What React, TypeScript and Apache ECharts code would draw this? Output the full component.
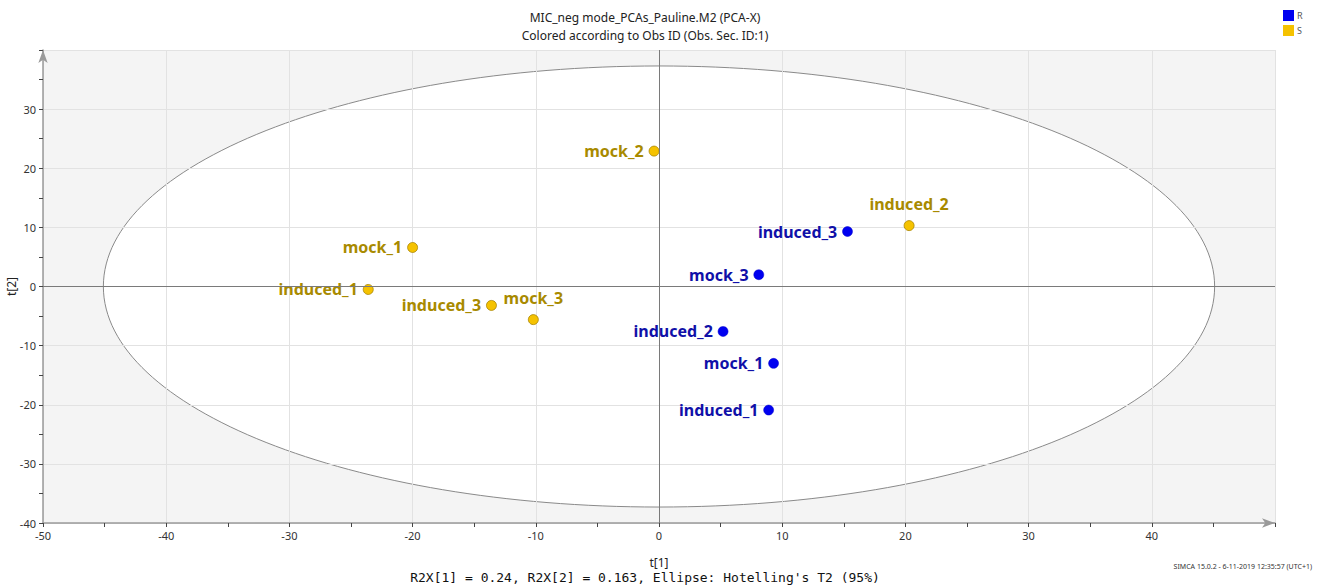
import React, { useEffect, useRef } from "react";
import * as echarts from "echarts";

const titleLines = ["MIC_neg mode_PCAs_Pauline.M2 (PCA-X)", "Colored according to Obs ID (Obs. Sec. ID:1)"];
const footerText = "R2X[1] = 0.24, R2X[2] = 0.163, Ellipse: Hotelling's T2 (95%)";
const stampText = "SIMCA 15.0.2 - 6-11-2019 12:35:57 (UTC+1)";

const rNames = ["induced_3", "mock_3", "induced_2", "mock_1", "induced_1"];
const rT1 = [15.3, 8.1, 5.2, 9.3, 8.9];
const rT2 = [9.3, 2.0, -7.6, -13.0, -20.9];

const sNames = ["mock_2", "induced_2", "mock_1", "induced_1", "induced_3", "mock_3"];
const sT1 = [-0.4, 20.3, -20.0, -23.6, -13.6, -10.2];
const sT2 = [22.9, 10.3, 6.6, -0.5, -3.2, -5.6];

// Hotelling's T2 (95%) ellipse semi-axes in t[1], t[2] units
const ellipseT1 = 45.1;
const ellipseT2 = 37.3;

const xMin = -50, xMax = 50, yMin = -40, yMax = 40, step = 10;

const sLabelTop = ["induced_2", "mock_3"];

const FONT = "'Noto Sans', 'Open Sans', sans-serif";

export default function App() {
  const ref = useRef<HTMLDivElement>(null);
  useEffect(() => {
    if (!ref.current) return;
    const chart = echarts.init(ref.current, undefined, { renderer: "svg" });

    const rData = rNames.map((n, i) => ({ name: n, value: [rT1[i], rT2[i]] }));
    const sData = sNames.map((n, i) => ({
      name: n,
      value: [sT1[i], sT2[i]],
      label: sLabelTop.includes(n) ? { position: "top", distance: 8 } : undefined,
    }));

    const axisCommon = {
      type: "value",
      interval: step,
      axisLine: {
        show: true,
        onZero: false,
        symbol: ["none", "arrow"],
        symbolSize: [7, 13],
        lineStyle: { color: "#9a9a9a", width: 1.5 },
      },
      axisTick: { show: true, length: 4, lineStyle: { color: "#444" } },
      minorTick: { show: true, splitNumber: 2, length: 4, lineStyle: { color: "#444" } },
      splitLine: { show: true, lineStyle: { color: "#e2e2e2", width: 1 } },
      axisLabel: { color: "#333", fontSize: 11, fontFamily: FONT, showMaxLabel: false, margin: 7 },
      nameTextStyle: { color: "#222", fontSize: 12, fontFamily: FONT },
    };

    chart.setOption({
      animation: false,
      backgroundColor: "#ffffff",
      textStyle: { fontFamily: FONT },
      grid: {
        left: 43,
        right: 45,
        top: 50,
        bottom: 62,
        containLabel: false,
        outerBoundsMode: "none",
        show: true,
        backgroundColor: "#f4f4f4",
        borderWidth: 0,
        z: -2,
      },
      legend: {
        data: ["R", "S"],
        orient: "vertical",
        left: 1283,
        top: 10,
        padding: 0,
        itemWidth: 11,
        itemHeight: 11,
        itemGap: 4,
        icon: "rect",
        itemStyle: { borderWidth: 0, opacity: 1 },
        textStyle: { fontSize: 9, color: "#555", padding: [0, 0, 0, -2] },
      },
      graphic: [
        {
          type: "text",
          x: 645,
          y: 8,
          style: {
            text: titleLines.join("\n"),
            fontSize: 12,
            lineHeight: 18,
            fill: "#222",
            fontFamily: FONT,
            textAlign: "center",
          },
        },
        {
          type: "text",
          x: 645,
          y: 577,
          style: {
            text: footerText,
            fontSize: 13,
            fill: "#111",
            fontFamily: "'DejaVu Sans Mono', 'Liberation Mono', monospace",
            textAlign: "center",
            textVerticalAlign: "middle",
          },
        },
        {
          type: "text",
          x: 1312,
          y: 566,
          style: {
            text: stampText,
            fontSize: 7,
            fill: "#333",
            fontFamily: FONT,
            textAlign: "right",
            textVerticalAlign: "middle",
          },
        },
      ],
      xAxis: {
        ...axisCommon,
        min: xMin,
        max: xMax,
        name: "t[1]",
        nameLocation: "middle",
        nameGap: 33,
      },
      yAxis: {
        ...axisCommon,
        min: yMin,
        max: yMax,
        name: "t[2]",
        nameLocation: "middle",
        nameMoveOverlap: false,
        nameGap: 26,
      },
      series: [
        {
          type: "custom",
          name: "ellipse",
          z: -1,
          silent: true,
          data: [[0, 0]],
          renderItem: (params: any, api: any) => {
            const c = api.coord([api.value(0), api.value(1)]);
            const s = api.size([ellipseT1, ellipseT2]);
            return {
              type: "ellipse",
              shape: { cx: c[0], cy: c[1], rx: s[0], ry: s[1] },
              style: { fill: "#ffffff", stroke: "#8a8a8a", lineWidth: 1 },
            };
          },
        },
        {
          type: "scatter",
          name: "R",
          symbol: "circle",
          symbolSize: 10,
          itemStyle: { color: "#0000f0", borderColor: "#0000c8", borderWidth: 0.5, opacity: 1 },
          label: {
            show: true,
            formatter: "{b}",
            position: "left",
            distance: 5,
            color: "#1010a8",
            fontSize: 16,
            fontWeight: "bold",
            fontFamily: FONT,
          },
          data: rData,
          z: 4,
        },
        {
          type: "scatter",
          name: "S",
          symbol: "circle",
          symbolSize: 10,
          itemStyle: { color: "#f5c200", borderColor: "#a88400", borderWidth: 0.8, opacity: 1 },
          label: {
            show: true,
            formatter: "{b}",
            position: "left",
            distance: 5,
            color: "#a88a00",
            fontSize: 16,
            fontWeight: "bold",
            fontFamily: FONT,
          },
          data: sData,
          markLine: {
            silent: true,
            symbol: "none",
            label: { show: false },
            lineStyle: { color: "#7a7a7a", type: "solid", width: 1 },
            data: [{ xAxis: 0 }, { yAxis: 0 }],
          },
          z: 3,
        },
      ],
    });

    return () => chart.dispose();
  }, []);

  return <div ref={ref} style={{ width: 1320, height: 585, position: "absolute", left: 0, top: 0 }} />;
}
